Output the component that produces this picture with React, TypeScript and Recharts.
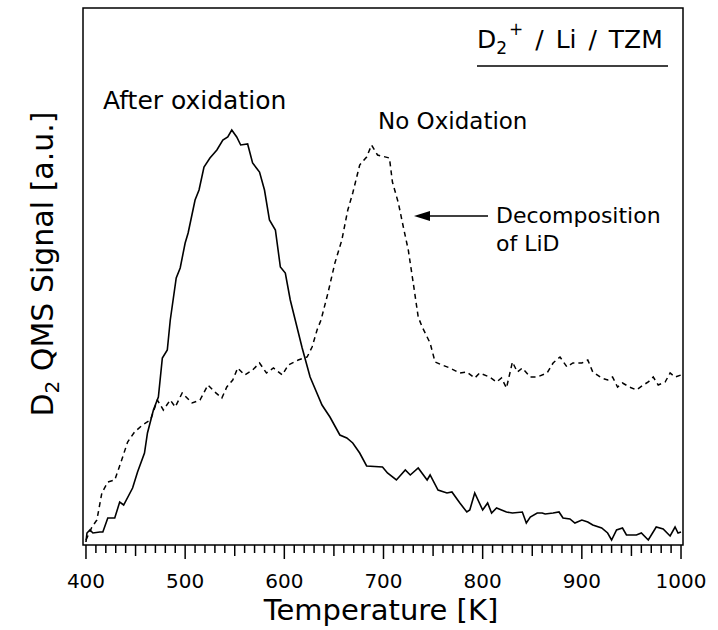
import { LineChart, Line, XAxis, YAxis, ReferenceArea } from "recharts";

// TDS spectra, D2 QMS signal vs temperature (arbitrary units, 0 = baseline).
const afterOxT = [
  400, 401, 404, 407, 414, 417, 422, 429, 434, 438, 447, 452, 459, 462, 468, 473, 477, 482, 485, 491,
  495, 500, 503, 510, 514, 519, 525, 532, 538, 543, 547, 552, 556, 563, 568, 575, 580, 585, 591, 596,
  601, 606, 611, 618, 626, 638, 646, 656, 663, 669, 676, 683, 699, 704, 713, 722, 727, 735, 744, 747,
  755, 764, 769, 777, 784, 787, 792, 800, 805, 809, 814, 824, 830, 840, 844, 848, 855, 860, 863, 871,
  877, 881, 888, 893, 900, 906, 911, 920, 926, 930, 935, 941, 945, 955, 960, 967, 975, 982, 989, 994,
  997, 1000,
];
const afterOxV = [
  3, 12, 15, 12, 13, 13, 27, 27, 43, 40, 57, 73, 92, 112, 135, 148, 187, 195, 225, 267,
  277, 302, 312, 345, 355, 378, 387, 395, 405, 408, 415, 408, 400, 401, 382, 373, 355, 325, 315, 278,
  272, 245, 225, 197, 168, 140, 128, 110, 107, 102, 92, 79, 78, 72, 65, 75, 70, 77, 65, 70,
  55, 52, 53, 42, 33, 35, 52, 35, 42, 32, 37, 33, 32, 33, 22, 28, 32, 32, 31, 32,
  33, 27, 26, 22, 25, 23, 20, 17, 12, 5, 15, 17, 10, 10, 12, 5, 18, 16, 9, 18,
  12, 13,
];

const noOxT = [
  400, 406, 411, 416, 422, 429, 436, 442, 449, 457, 465, 472, 478, 485, 490, 497, 507, 515, 523, 530,
  537, 542, 548, 553, 560, 568, 575, 582, 589, 598, 604, 614, 623, 628, 633, 637, 644, 651, 658, 664,
  669, 674, 676, 683, 688, 694, 706, 709, 715, 720, 725, 730, 735, 739, 747, 752, 759, 767, 777, 784,
  792, 797, 807, 814, 819, 824, 830, 835, 840, 848, 855, 865, 871, 878, 885, 891, 900, 906, 911, 920,
  926, 931, 936, 941, 948, 955, 962, 967, 972, 977, 984, 989, 994, 1000,
];
const noOxV = [
  5, 18, 25, 52, 63, 65, 85, 103, 113, 120, 125, 145, 135, 145, 138, 152, 142, 145, 160, 153,
  147, 158, 165, 177, 170, 175, 182, 172, 177, 170, 180, 185, 188, 198, 215, 225, 252, 282, 305, 335,
  352, 372, 380, 388, 400, 390, 387, 363, 342, 318, 295, 262, 228, 218, 202, 183, 180, 177, 172, 173,
  167, 172, 168, 163, 167, 157, 183, 173, 177, 168, 168, 172, 182, 188, 178, 182, 182, 185, 173, 167,
  165, 168, 158, 162, 158, 155, 160, 163, 168, 160, 163, 172, 168, 170,
];

const majorTicks = [400, 500, 600, 700, 800, 900, 1000];

const afterOx = afterOxT.map((t, i) => ({ t, v: afterOxV[i] }));
const noOx = noOxT.map((t, i) => ({ t, v: noOxV[i] }));

// minor ticks every 10 K between the labelled ones
const allTicks: number[] = [];
for (let i = 0; i < majorTicks.length - 1; i++) {
  for (let k = 0; k < 10; k++) allTicks.push(majorTicks[i] + k * 10);
}
allTicks.push(majorTicks[majorTicks.length - 1]);

const FONT = "'DejaVu Sans', sans-serif";

function TempTick({ x, y, payload }: any) {
  const v = payload.value as number;
  const major = v % 100 === 0;
  const len = major ? 14 : v % 50 === 0 ? 11 : 8;
  return (
    <g>
      <line x1={x} x2={x} y1={y} y2={y + len} stroke="#000" strokeWidth={1.5} />
      {major && (
        <text x={x} y={y + 43} textAnchor="middle" fontSize={20} fontFamily={FONT} fill="#000">
          {v}
        </text>
      )}
    </g>
  );
}

export default function App() {
  return (
    <div style={{ position: "absolute", left: 0, top: 0, width: 718, height: 630, background: "#fff" }}>
      <LineChart width={718} height={630} margin={{ top: 8, right: 35, left: 83, bottom: 0 }}>
        <XAxis
          type="number"
          dataKey="t"
          domain={[397, 1002]}
          allowDataOverflow
          ticks={allTicks}
          interval={0}
          tick={<TempTick />}
          tickLine={false}
          axisLine={false}
          tickSize={0}
          tickMargin={0}
          height={85}
        />
        <YAxis type="number" domain={[0, 537]} allowDataOverflow hide />
        <ReferenceArea x1={397} x2={1002} y1={0} y2={537} fill="none" stroke="#000" strokeWidth={1.5} />
        <Line
          data={noOx}
          dataKey="v"
          type="linear"
          stroke="#000"
          strokeWidth={1.5}
          strokeDasharray="5 4"
          dot={false}
          isAnimationActive={false}
        />
        <Line
          data={afterOx}
          dataKey="v"
          type="linear"
          stroke="#000"
          strokeWidth={1.6}
          dot={false}
          isAnimationActive={false}
        />
      </LineChart>

      <svg
        width={718}
        height={630}
        style={{ position: "absolute", left: 0, top: 0, pointerEvents: "none" }}
        fontFamily={FONT}
      >
        <text x={381} y={620} textAnchor="middle" fontSize={29}>
          Temperature [K]
        </text>
        <text x={53} y={264} textAnchor="middle" fontSize={30} transform="rotate(-90, 53, 264)">
          D<tspan fontSize={20} dy={6}>2</tspan>
          <tspan dy={-6}> QMS Signal [a.u.]</tspan>
        </text>

        <text x={477} y={48} fontSize={25} wordSpacing={4}>
          D<tspan fontSize={17} dy={6}>2</tspan>
          <tspan fontSize={17} dy={-19} dx={2}>+</tspan>
          <tspan dy={13}> / Li / TZM</tspan>
        </text>
        <line x1={477} x2={668} y1={66} y2={66} stroke="#000" strokeWidth={1.5} />

        <text x={103} y={109} fontSize={25}>After oxidation</text>
        <text x={378} y={129} fontSize={23}>No Oxidation</text>

        <line x1={488} x2={426} y1={216} y2={216} stroke="#000" strokeWidth={1.5} />
        <polygon points="414,216 430,211 430,221" fill="#000" />
        <text x={496} y={223} fontSize={22}>Decomposition</text>
        <text x={496} y={251} fontSize={22}>of LiD</text>
      </svg>
    </div>
  );
}
